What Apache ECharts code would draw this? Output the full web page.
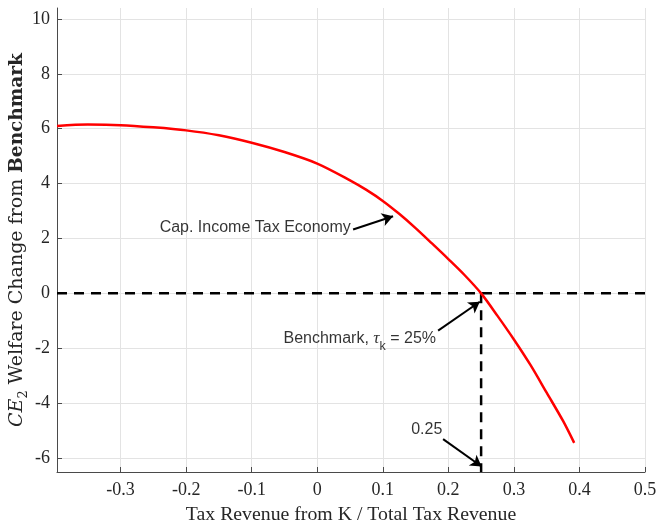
<!DOCTYPE html>
<html>
<head>
<meta charset="utf-8">
<script src="https://cdn.jsdelivr.net/npm/echarts@6/dist/echarts.min.js"></script>
<style>html,body{margin:0;padding:0;background:#fff;}#c{width:659px;height:525px;}</style>
</head>
<body>
<div id="c"></div>
<script>
// ---- data ----
const xRange = [-0.397, 0.5];
const yRange = [-6.51, 10.4];
const xGridTicks = [-0.3, -0.2, -0.1, 0, 0.1, 0.2, 0.3, 0.4, 0.5];
const yGridTicks = [-6, -4, -2, 0, 2, 4, 6, 8, 10];
const curveX = [-0.397, -0.35, -0.3, -0.25, -0.2, -0.15, -0.1, -0.05, 0, 0.05, 0.075, 0.1, 0.125, 0.15, 0.175, 0.2, 0.225, 0.25, 0.275, 0.3, 0.325, 0.35, 0.375, 0.392];
const curveY = [6.10, 6.15, 6.13, 6.05, 5.94, 5.76, 5.49, 5.15, 4.73, 4.12, 3.77, 3.37, 2.90, 2.38, 1.82, 1.25, 0.66, 0, -0.82, -1.68, -2.60, -3.62, -4.65, -5.45];
const benchmarkX = 0.25;
const benchmarkY = 0;
// annotations: [text anchor], [arrow tail], [arrow head]
const capTextAt = [0.052, 2.39];
const capArrow = [[0.0547, 2.33], [0.1157, 2.81]];
const benchTextAt = [0.182, -1.63];
const benchArrow = [[0.1844, -1.36], [0.248, -0.305]];
const qTextAt = [0.167, -4.97];
const qArrow = [[0.192, -5.31], [0.2507, -6.31]];

const serif = 'Liberation Serif';
const mathSerif = 'DejaVu Serif';
const sans = 'Liberation Sans';

const curveData = curveX.map((x, i) => [x, curveY[i]]);

function arrowMark(a) {
  return [{ coord: a[0] }, { coord: a[1] }];
}

const chart = echarts.init(document.getElementById('c'), null, { renderer: 'canvas' });
chart.setOption({
  animation: false,
  backgroundColor: '#fff',
  grid: { left: 57, right: 14, top: 8, bottom: 53, containLabel: false, outerBoundsMode: 'none' },
  xAxis: {
    type: 'value',
    min: xRange[0], max: xRange[1], splitNumber: 9,
    axisLine: { show: true, onZero: false, lineStyle: { color: '#4a4a4a', width: 1 } },
    axisTick: { show: true, inside: true, length: 5, lineStyle: { color: '#4a4a4a' } },
    axisLabel: { showMinLabel: false, color: '#262626', fontFamily: serif, fontSize: 18, margin: 9 },
    splitLine: { show: false },
    name: 'Tax Revenue from K / Total Tax Revenue',
    nameLocation: 'middle', nameGap: 33,
    nameTextStyle: { color: '#262626', fontFamily: serif, fontSize: 19.8 }
  },
  yAxis: {
    type: 'value',
    min: yRange[0], max: yRange[1], splitNumber: 8,
    axisLine: { show: true, onZero: false, lineStyle: { color: '#4a4a4a', width: 1 } },
    axisTick: { show: true, inside: true, length: 5, lineStyle: { color: '#4a4a4a' } },
    axisLabel: { showMinLabel: false, showMaxLabel: false, color: '#262626', fontFamily: serif, fontSize: 18, margin: 7 },
    splitLine: { show: false },
    name: '{it|CE}{sub|2} {t|Welfare Change from} {b|Benchmark}',
    nameLocation: 'middle', nameGap: 27, nameMoveOverlap: false,
    nameTextStyle: {
      color: '#262626', fontFamily: mathSerif, fontSize: 19,
      rich: {
        it: { fontFamily: mathSerif, fontStyle: 'italic', fontSize: 19, color: '#262626' },
        t: { fontFamily: mathSerif, fontSize: 19, color: '#262626' },
        sub: { fontFamily: mathSerif, fontSize: 13, color: '#262626', verticalAlign: 'bottom', lineHeight: 26 },
        b: { fontFamily: mathSerif, fontWeight: 'bold', fontSize: 18.5, color: '#262626' }
      }
    }
  },
  series: [
    {
      name: 'grid', type: 'line', data: [], silent: true, z: 0,
      markLine: {
        z: 0, silent: true, symbol: ['none', 'none'], animation: false,
        label: { show: false },
        lineStyle: { color: '#e3e3e3', width: 1, type: 'solid' },
        emphasis: { disabled: true },
        data: xGridTicks.map(v => ({ xAxis: v })).concat(yGridTicks.map(v => ({ yAxis: v })))
      }
    },
    {
      name: 'zeroline', type: 'line', symbol: 'none', silent: true, z: 3,
      data: [[xRange[0], benchmarkY], [xRange[1], benchmarkY]],
      lineStyle: { color: '#000', width: 2.5, type: [10, 7] }
    },
    {
      name: 'vline', type: 'line', symbol: 'none', silent: true, z: 3,
      data: [[benchmarkX, benchmarkY], [benchmarkX, yRange[0]]],
      lineStyle: { color: '#000', width: 2.5, type: [10, 7] }
    },
    {
      name: 'curve', type: 'line', symbol: 'none', smooth: 0.3, silent: true, z: 4,
      data: curveData,
      lineStyle: { color: '#ff0000', width: 2.5 }
    },
    {
      name: 'arrows', type: 'line', data: [], silent: true, z: 10,
      markLine: {
        z: 10, silent: true, symbol: ['none', 'arrow'], symbolSize: [10, 11], animation: false,
        label: { show: false },
        emphasis: { disabled: true },
        lineStyle: { color: '#000', width: 2, type: 'solid' },
        data: [arrowMark(capArrow), arrowMark(benchArrow), arrowMark(qArrow)]
      }
    },
    {
      name: 'texts', type: 'scatter', symbolSize: 1, silent: true, z: 11,
      itemStyle: { color: 'rgba(0,0,0,0)' },
      data: [
        { value: capTextAt, label: { show: true, position: 'left', distance: 0, formatter: 'Cap. Income Tax Economy' } },
        { value: benchTextAt, label: { show: true, position: 'left', distance: 0,
            formatter: 'Benchmark, {tau|τ}{k|k} = 25%' } },
        { value: qTextAt, label: { show: true, position: 'inside', formatter: '0.25' } }
      ],
      label: {
        color: '#000', fontFamily: sans, fontSize: 16,
        rich: {
          tau: { fontFamily: serif, fontStyle: 'italic', fontSize: 17.5, color: '#000' },
          k: { fontFamily: sans, fontSize: 12.5, color: '#000', verticalAlign: 'bottom', lineHeight: 30 }
        }
      }
    }
  ]
});
</script>
</body>
</html>
